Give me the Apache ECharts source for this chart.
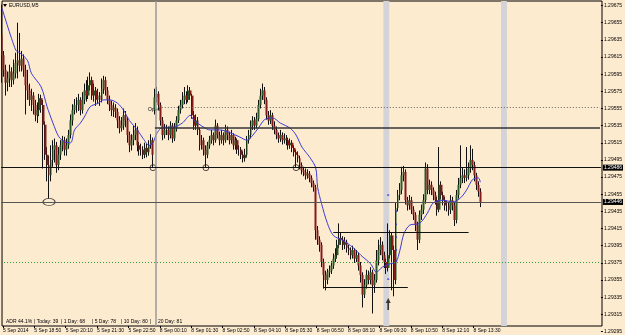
<!DOCTYPE html>
<html><head><meta charset="utf-8">
<script src="https://cdn.jsdelivr.net/npm/echarts@6/dist/echarts.min.js"></script>
<style>html,body{margin:0;padding:0;background:#fdebd0}#c{width:625px;height:335px}</style>
</head><body><div id="c"></div>
<script>
// ---- data (EURUSD M5, one entry per bar) ----
const opens = [1.29640,1.29617,1.29600,1.29585,1.29590,1.29598,1.29588,1.29596,1.29608,1.29611,
1.29605,1.29613,1.29600,1.29582,1.29576,1.29565,1.29570,1.29559,1.29547,1.29553,
1.29567,1.29559,1.29536,1.29501,1.29489,1.29477,1.29495,1.29507,1.29512,1.29489,
1.29501,1.29512,1.29518,1.29507,1.29512,1.29524,1.29541,1.29553,1.29559,1.29559,
1.29565,1.29553,1.29565,1.29576,1.29570,1.29582,1.29588,1.29570,1.29576,1.29565,
1.29570,1.29565,1.29578,1.29588,1.29576,1.29565,1.29559,1.29553,1.29556,1.29551,
1.29541,1.29532,1.29535,1.29547,1.29541,1.29524,1.29512,1.29518,1.29524,1.29530,
1.29512,1.29507,1.29507,1.29501,1.29509,1.29504,1.29512,1.29518,1.29553,1.29568,
1.29572,1.29559,1.29541,1.29524,1.29530,1.29530,1.29524,1.29535,1.29520,1.29532,
1.29541,1.29553,1.29559,1.29565,1.29570,1.29565,1.29576,1.29570,1.29547,1.29535,
1.29541,1.29530,1.29512,1.29518,1.29507,1.29501,1.29512,1.29518,1.29524,1.29518,
1.29535,1.29524,1.29518,1.29524,1.29518,1.29530,1.29524,1.29518,1.29524,1.29512,
1.29518,1.29507,1.29507,1.29501,1.29497,1.29501,1.29518,1.29524,1.29535,1.29541,
1.29535,1.29543,1.29559,1.29570,1.29576,1.29565,1.29547,1.29541,1.29547,1.29535,
1.29530,1.29524,1.29520,1.29524,1.29518,1.29520,1.29518,1.29512,1.29515,1.29509,
1.29504,1.29501,1.29497,1.29489,1.29483,1.29481,1.29477,1.29479,1.29474,1.29468,
1.29463,1.29413,1.29402,1.29396,1.29376,1.29361,1.29355,1.29364,1.29366,1.29372,
1.29380,1.29384,1.29396,1.29404,1.29402,1.29396,1.29399,1.29392,1.29390,1.29384,
1.29390,1.29380,1.29384,1.29372,1.29361,1.29338,1.29349,1.29361,1.29355,1.29364,
1.29349,1.29355,1.29378,1.29390,1.29396,1.29384,1.29376,1.29369,1.29384,1.29407,
1.29390,1.29355,1.29439,1.29454,1.29460,1.29477,1.29481,1.29448,1.29442,1.29448,
1.29437,1.29431,1.29419,1.29402,1.29431,1.29437,1.29448,1.29485,1.29460,1.29466,
1.29460,1.29454,1.29448,1.29437,1.29466,1.29454,1.29448,1.29442,1.29442,1.29437,
1.29448,1.29442,1.29425,1.29454,1.29466,1.29474,1.29477,1.29474,1.29477,1.29485,
1.29495,1.29489,1.29477,1.29466,1.29458];
const closes = [1.29617,1.29600,1.29585,1.29590,1.29598,1.29588,1.29596,1.29608,1.29611,1.29605,
1.29613,1.29600,1.29582,1.29576,1.29565,1.29570,1.29559,1.29547,1.29553,1.29567,
1.29559,1.29536,1.29501,1.29489,1.29477,1.29495,1.29507,1.29512,1.29489,1.29501,
1.29512,1.29518,1.29507,1.29512,1.29524,1.29541,1.29553,1.29559,1.29559,1.29565,
1.29553,1.29565,1.29576,1.29570,1.29582,1.29588,1.29570,1.29576,1.29565,1.29570,
1.29565,1.29578,1.29588,1.29576,1.29565,1.29559,1.29553,1.29556,1.29551,1.29541,
1.29532,1.29535,1.29547,1.29541,1.29524,1.29512,1.29518,1.29524,1.29530,1.29512,
1.29507,1.29507,1.29501,1.29509,1.29504,1.29512,1.29518,1.29501,1.29568,1.29572,
1.29559,1.29541,1.29524,1.29530,1.29530,1.29524,1.29535,1.29520,1.29532,1.29541,
1.29553,1.29559,1.29565,1.29570,1.29565,1.29576,1.29570,1.29547,1.29535,1.29541,
1.29530,1.29512,1.29518,1.29507,1.29501,1.29512,1.29518,1.29524,1.29518,1.29535,
1.29524,1.29518,1.29524,1.29518,1.29530,1.29524,1.29518,1.29524,1.29512,1.29518,
1.29507,1.29507,1.29501,1.29497,1.29501,1.29518,1.29524,1.29535,1.29541,1.29535,
1.29543,1.29559,1.29570,1.29576,1.29565,1.29547,1.29541,1.29547,1.29535,1.29530,
1.29524,1.29520,1.29524,1.29518,1.29520,1.29518,1.29512,1.29515,1.29509,1.29504,
1.29501,1.29497,1.29489,1.29483,1.29481,1.29477,1.29479,1.29474,1.29468,1.29463,
1.29413,1.29402,1.29396,1.29376,1.29361,1.29355,1.29364,1.29366,1.29372,1.29380,
1.29384,1.29396,1.29404,1.29402,1.29396,1.29399,1.29392,1.29390,1.29384,1.29390,
1.29380,1.29384,1.29372,1.29361,1.29338,1.29349,1.29361,1.29355,1.29364,1.29349,
1.29355,1.29378,1.29390,1.29396,1.29384,1.29376,1.29369,1.29384,1.29407,1.29390,
1.29355,1.29439,1.29454,1.29460,1.29477,1.29481,1.29448,1.29442,1.29448,1.29437,
1.29431,1.29419,1.29402,1.29431,1.29437,1.29448,1.29485,1.29460,1.29466,1.29460,
1.29454,1.29448,1.29437,1.29466,1.29454,1.29448,1.29442,1.29442,1.29437,1.29448,
1.29442,1.29425,1.29454,1.29466,1.29474,1.29477,1.29474,1.29477,1.29485,1.29495,
1.29489,1.29477,1.29466,1.29458,1.29446];
const highs = [1.29676,1.29622,1.29606,1.29598,1.29606,1.29603,1.29612,1.29620,1.29655,1.29643,
1.29622,1.29618,1.29606,1.29600,1.29584,1.29578,1.29574,1.29565,1.29562,1.29572,
1.29571,1.29565,1.29540,1.29510,1.29500,1.29512,1.29518,1.29520,1.29516,1.29510,
1.29518,1.29523,1.29522,1.29520,1.29530,1.29548,1.29560,1.29566,1.29568,1.29572,
1.29568,1.29574,1.29584,1.29588,1.29592,1.29597,1.29592,1.29584,1.29580,1.29578,
1.29574,1.29590,1.29593,1.29592,1.29580,1.29570,1.29564,1.29562,1.29560,1.29555,
1.29546,1.29545,1.29555,1.29552,1.29545,1.29528,1.29525,1.29535,1.29538,1.29534,
1.29516,1.29514,1.29511,1.29515,1.29514,1.29518,1.29525,1.29521,1.29578,1.29580,
1.29575,1.29562,1.29545,1.29537,1.29536,1.29534,1.29540,1.29538,1.29538,1.29546,
1.29558,1.29565,1.29574,1.29580,1.29575,1.29582,1.29580,1.29572,1.29552,1.29548,
1.29545,1.29533,1.29524,1.29521,1.29512,1.29516,1.29523,1.29530,1.29527,1.29542,
1.29538,1.29528,1.29530,1.29527,1.29536,1.29534,1.29528,1.29530,1.29526,1.29522,
1.29520,1.29512,1.29510,1.29505,1.29508,1.29523,1.29530,1.29541,1.29546,1.29545,
1.29550,1.29565,1.29578,1.29584,1.29580,1.29568,1.29552,1.29553,1.29550,1.29540,
1.29534,1.29527,1.29530,1.29527,1.29526,1.29524,1.29521,1.29520,1.29518,1.29512,
1.29507,1.29505,1.29500,1.29492,1.29487,1.29485,1.29484,1.29482,1.29477,1.29471,
1.29466,1.29418,1.29406,1.29399,1.29380,1.29366,1.29368,1.29372,1.29377,1.29386,
1.29392,1.29402,1.29421,1.29410,1.29406,1.29405,1.29402,1.29396,1.29393,1.29395,
1.29392,1.29390,1.29387,1.29376,1.29364,1.29356,1.29367,1.29366,1.29370,1.29367,
1.29362,1.29390,1.29402,1.29405,1.29400,1.29388,1.29380,1.29421,1.29413,1.29410,
1.29395,1.29445,1.29460,1.29468,1.29487,1.29488,1.29484,1.29452,1.29454,1.29452,
1.29441,1.29434,1.29423,1.29436,1.29443,1.29455,1.29492,1.29490,1.29472,1.29470,
1.29463,1.29458,1.29452,1.29510,1.29470,1.29458,1.29452,1.29447,1.29446,1.29454,
1.29452,1.29446,1.29460,1.29474,1.29512,1.29486,1.29484,1.29510,1.29492,1.29512,
1.29508,1.29493,1.29480,1.29470,1.29462];
const lows = [1.29585,1.29592,1.29570,1.29575,1.29580,1.29580,1.29583,1.29590,1.29590,1.29598,
1.29598,1.29592,1.29548,1.29565,1.29558,1.29552,1.29548,1.29540,1.29538,1.29546,
1.29550,1.29485,1.29495,1.29470,1.29450,1.29470,1.29487,1.29492,1.29480,1.29483,
1.29495,1.29505,1.29500,1.29500,1.29508,1.29520,1.29535,1.29548,1.29550,1.29552,
1.29547,1.29549,1.29560,1.29563,1.29566,1.29576,1.29565,1.29563,1.29558,1.29560,
1.29558,1.29562,1.29572,1.29570,1.29560,1.29552,1.29546,1.29545,1.29544,1.29532,
1.29526,1.29528,1.29530,1.29533,1.29515,1.29504,1.29506,1.29512,1.29518,1.29505,
1.29500,1.29500,1.29496,1.29497,1.29498,1.29500,1.29508,1.29486,1.29548,1.29562,
1.29553,1.29535,1.29518,1.29520,1.29524,1.29518,1.29520,1.29515,1.29517,1.29528,
1.29538,1.29549,1.29555,1.29560,1.29560,1.29562,1.29565,1.29543,1.29530,1.29530,
1.29524,1.29506,1.29507,1.29500,1.29486,1.29497,1.29508,1.29514,1.29512,1.29515,
1.29520,1.29512,1.29514,1.29512,1.29515,1.29518,1.29513,1.29514,1.29507,1.29507,
1.29502,1.29500,1.29496,1.29492,1.29493,1.29498,1.29514,1.29520,1.29530,1.29530,
1.29532,1.29540,1.29555,1.29565,1.29560,1.29542,1.29536,1.29537,1.29530,1.29525,
1.29519,1.29515,1.29516,1.29513,1.29514,1.29512,1.29507,1.29508,1.29504,1.29499,
1.29486,1.29492,1.29484,1.29478,1.29476,1.29472,1.29473,1.29469,1.29463,1.29458,
1.29402,1.29396,1.29388,1.29370,1.29345,1.29343,1.29350,1.29358,1.29362,1.29368,
1.29376,1.29380,1.29392,1.29396,1.29390,1.29391,1.29387,1.29384,1.29379,1.29380,
1.29375,1.29376,1.29366,1.29352,1.29323,1.29334,1.29345,1.29350,1.29350,1.29316,
1.29340,1.29352,1.29372,1.29384,1.29378,1.29369,1.29362,1.29365,1.29380,1.29343,
1.29336,1.29350,1.29435,1.29448,1.29455,1.29470,1.29443,1.29436,1.29437,1.29432,
1.29425,1.29412,1.29390,1.29398,1.29425,1.29432,1.29444,1.29455,1.29455,1.29454,
1.29448,1.29443,1.29430,1.29434,1.29449,1.29442,1.29436,1.29435,1.29430,1.29432,
1.29436,1.29418,1.29421,1.29450,1.29462,1.29468,1.29468,1.29470,1.29472,1.29480,
1.29483,1.29470,1.29460,1.29452,1.29440];
// moving average, read at these bars
const maBars = [0,7,9,13,15,20,23,26,29,32,35,37,40,42,45,49,52,55,59,62,65,69,72,75,77,79,82,87,92,96,98,103,106,111,116,121,125,128,131,134,138,142,147,150,153,157,160,161,163,166,169,174,179,183,188,191,194,198,201,203,205,208,213,217,220,225,230,234,237,240,243,244];
const maValues = [1.29672,1.29623,1.29620,1.29611,1.29596,1.29580,1.29557,1.29538,1.29522,1.29516,1.29515,1.29530,1.29538,1.29545,1.29557,1.29561,1.29565,1.29565,1.29561,1.29553,1.29541,1.29530,1.29520,1.29512,1.29515,1.29526,1.29533,1.29533,1.29538,1.29547,1.29541,1.29533,1.29530,1.29530,1.29527,1.29522,1.29518,1.29524,1.29533,1.29542,1.29544,1.29538,1.29532,1.29524,1.29510,1.29498,1.29486,1.29463,1.29444,1.29421,1.29407,1.29401,1.29393,1.29384,1.29374,1.29364,1.29370,1.29374,1.29376,1.29390,1.29409,1.29419,1.29421,1.29433,1.29445,1.29448,1.29446,1.29451,1.29460,1.29472,1.29474,1.29469];
// small blue indicator marks near the 09:40 bars
const blueMarkBars = [197, 197, 201, 201, 201, 201, 201];
const blueMarkValues = [1.29454, 1.29356, 1.29435, 1.29420, 1.29405, 1.29390, 1.29378];
const timeLabels = ['5 Sep 2014','5 Sep 18:50','5 Sep 20:10','5 Sep 21:30','5 Sep 22:50','8 Sep 00:10','8 Sep 01:30','8 Sep 02:50','8 Sep 04:10','8 Sep 05:30','8 Sep 06:50','8 Sep 08:10','8 Sep 09:30','8 Sep 10:50','8 Sep 12:10','8 Sep 13:30'];
const priceTickLabels = ['1.29295','1.29315','1.29335','1.29355','1.29375','1.29395','1.29415','1.29435','1.29455','1.29475','1.29495','1.29515','1.29535','1.29555','1.29575','1.29595','1.29615','1.29635','1.29655','1.29675'];
const adrTexts = ['ADR 44.1%','| Today: 39','| 1 Day: 68','| 5 Day: 78','| 10 Day: 80','|','20 Day: 81'];
// horizontal levels
const supportLevel = 1.29486;
const bidPrice = 1.29446;
const askPrice = 1.29456;
const resistLevel = 1.29533;
const openLevel = 1.29556;
const greenDotLevel = 1.29376;
const boxTop = 1.29411, boxBottom = 1.29346;
const circleBars = [77, 104, 150];
const ellipseBar = 24;
const arrowBar = 197, arrowPrice = 1.29327;

// ---- chart ----
const BASE = 1.29295;
const U = p => +((p - BASE) * 1e5).toFixed(3);
const N = 306;
const cats = Array.from({length: N}, (_, i) => String(i));
const font = 'Liberation Sans';
const FS = 5;

const wickData = opens.map((o, i) => [U(o), U(closes[i]), U(Math.min(lows[i], o, closes[i])), U(Math.max(highs[i], o, closes[i]))]);
const bodyData = opens.map((o, i) => [U(o), U(closes[i]), U(Math.min(o, closes[i])), U(Math.max(o, closes[i]))]);
const maData = maBars.map((b, i) => [b, U(maValues[i])]);
const blueData = blueMarkBars.map((b, i) => [b, U(blueMarkValues[i])]);

const hl = (p, extra) => Object.assign({yAxis: U(p)}, extra || {});
const seg = (p, a, b, style) => [{coord: [a, U(p)], lineStyle: style}, {coord: [b, U(p)]}];
const boxLabel = (txt) => ({show: true, position: 'end', distance: 2, formatter: txt, backgroundColor: '#000', color: '#fff', fontSize: FS, fontFamily: font, padding: [1, 1, 0, 1]});

const chart = echarts.init(document.getElementById('c'), null, {renderer: 'canvas', width: 625, height: 335});
chart.setOption({
  animation: false,
  backgroundColor: '#fdebd0',
  grid: [
    {left: 1, right: 23, top: 5.5, bottom: 3.5},
    {left: 1, right: 23, top: 1, bottom: 9, show: true, borderColor: '#000', borderWidth: 1, backgroundColor: 'transparent'}
  ],
  xAxis: [
    {type: 'category', gridIndex: 0, data: cats, boundaryGap: true, axisLine: {show: false}, axisTick: {show: false}, axisLabel: {show: false}, splitLine: {show: false}},
    {type: 'category', gridIndex: 1, data: cats, boundaryGap: true, axisLine: {show: false},
      axisTick: {show: true, alignWithLabel: true, length: 2, interval: (i) => i % 16 === 0 && i / 16 < timeLabels.length, lineStyle: {color: '#000'}},
      axisLabel: {show: true, interval: (i) => i % 16 === 0 && i / 16 < timeLabels.length, formatter: (v, i) => timeLabels[i / 16] || '', align: 'left', margin: 2, fontSize: FS, fontFamily: font, color: '#000'},
      splitLine: {show: false}}
  ],
  yAxis: [
    {type: 'value', gridIndex: 0, position: 'right', min: 0, max: 380, interval: 20, axisLine: {show: false},
      axisTick: {show: true, length: 2, lineStyle: {color: '#000'}},
      axisLabel: {show: true, margin: 3, fontSize: FS, fontFamily: font, color: '#000', formatter: (v) => priceTickLabels[Math.round(v / 20)] || ''},
      splitLine: {show: false}},
    {type: 'value', gridIndex: 1, min: 0, max: 1, show: false}
  ],
  series: [
    {type: 'line', xAxisIndex: 1, yAxisIndex: 1, data: [], silent: true,
      markArea: {silent: true, itemStyle: {color: '#d3d3d8'}, data: [[{xAxis: 194}, {xAxis: 197}], [{xAxis: 254}, {xAxis: 257}]]},
      markLine: {silent: true, symbol: ['none', 'none'], label: {show: false}, lineStyle: {color: '#9a9a9a', width: 1.5, type: 'solid'}, data: [{xAxis: 78}]}},
    {type: 'line', xAxisIndex: 0, yAxisIndex: 0, data: [], silent: true,
      markLine: {silent: true, symbol: ['none', 'none'], label: {show: false}, data: [
        hl(supportLevel, {lineStyle: {color: '#111', width: 1, type: 'solid'}, label: boxLabel(supportLevel.toFixed(5))}),
        hl(bidPrice, {lineStyle: {color: '#555', width: 1, type: 'solid'}, label: boxLabel(bidPrice.toFixed(5))}),
        hl(askPrice, {lineStyle: {opacity: 0}, label: boxLabel(askPrice.toFixed(5))}),
        hl(greenDotLevel, {lineStyle: {color: '#2e9e2e', width: 1, type: [1, 2]}}),
        seg(resistLevel, 78, 305, {color: '#333', width: 1.5, type: 'solid'}),
        seg(openLevel, 80, 305, {color: '#666', width: 1, type: [1, 2]}),
        seg(boxTop, 169, 238, {color: '#111', width: 1, type: 'solid'}),
        seg(boxBottom, 164, 207, {color: '#111', width: 1, type: 'solid'})
      ]}},
    {type: 'candlestick', xAxisIndex: 0, yAxisIndex: 0, data: wickData, barWidth: 1, clip: false,
      itemStyle: {color: '#111', color0: '#111', borderColor: '#111', borderColor0: '#111', borderWidth: 1}},
    {type: 'candlestick', xAxisIndex: 0, yAxisIndex: 0, data: bodyData, barWidth: 2.4, clip: false,
      itemStyle: {color: '#2c5a27', color0: '#861a1a', borderColor: '#2c5a27', borderColor0: '#861a1a', borderWidth: 0}},
    {type: 'line', xAxisIndex: 0, yAxisIndex: 0, data: maData, showSymbol: false, smooth: 0.3, clip: false,
      lineStyle: {color: '#3a3ad8', width: 1}},
    {type: 'scatter', xAxisIndex: 0, yAxisIndex: 0, silent: true, data: blueData, symbol: 'rect', symbolSize: [2, 1.5],
      itemStyle: {color: '#2a2ae0'}},
    {type: 'scatter', xAxisIndex: 0, yAxisIndex: 0, silent: true,
      data: circleBars.map(b => [b, U(supportLevel)]), symbol: 'circle', symbolSize: 6,
      itemStyle: {color: 'rgba(0,0,0,0)', borderColor: '#222', borderWidth: 1}},
    {type: 'scatter', xAxisIndex: 0, yAxisIndex: 0, silent: true,
      data: [[ellipseBar, U(bidPrice)]], symbol: 'circle', symbolSize: [12, 7],
      itemStyle: {color: 'rgba(0,0,0,0)', borderColor: '#222', borderWidth: 1}},
    {type: 'scatter', xAxisIndex: 0, yAxisIndex: 0, silent: true,
      data: [[arrowBar, U(arrowPrice)]], symbol: 'path://M3,0L6,5L4,5L4,12L2,12L2,5L0,5Z', symbolSize: [5, 12],
      itemStyle: {color: '#111'}}
  ],
  graphic: [
    {type: 'polygon', shape: {points: [[3, 4], [7, 4], [5, 7]]}, style: {fill: '#000'}},
    {type: 'text', x: 9, y: 6, style: {text: 'EURUSD,M5', fill: '#000', fontSize: FS, fontFamily: font, verticalAlign: 'middle'}},
    {type: 'text', x: 148, y: 110, style: {text: 'Open', fill: '#000', fontSize: FS, fontFamily: font, verticalAlign: 'middle'}}
  ].concat(adrTexts.map((t, i) => ({type: 'text', x: [6, 34, 61, 92, 121, 150, 158][i], y: 322, style: {text: t, fill: '#000', fontSize: FS, fontFamily: font, verticalAlign: 'middle'}})))
});
</script>
</body></html>
